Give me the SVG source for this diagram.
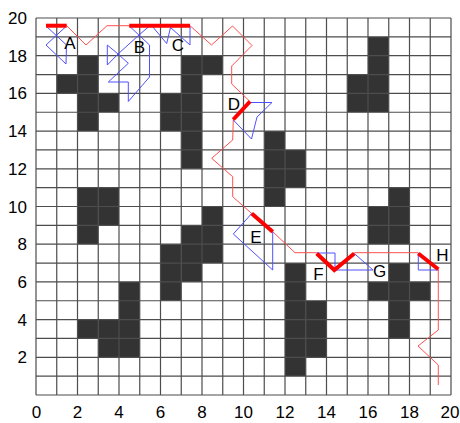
<svg xmlns="http://www.w3.org/2000/svg" width="460" height="423" viewBox="0 0 460 423">
<style>
.cell{fill:#333333}
.grid{stroke:#4d4d4d;stroke-width:1.2;fill:none}
.tick{font-family:"Liberation Sans",Arial,sans-serif;font-size:17px;fill:#000}
.lbl{font-family:"Liberation Sans",Arial,sans-serif;font-size:17px;fill:#000;text-anchor:middle}
.route{stroke:#ff5050;stroke-width:1;fill:none;stroke-linejoin:round}
.probe{stroke:#5050ff;stroke-width:1;fill:none;stroke-linejoin:round}
.hit{stroke:#ff0000;stroke-width:4;fill:none;stroke-linecap:butt;stroke-linejoin:miter}
</style>
<rect width="460" height="423" fill="#ffffff"/>
<g id="obstacles" class="cell" transform="matrix(20.75 0 0 18.85 36 18)">
<rect x="1" y="3" width="1" height="1"/>
<rect x="2" y="2" width="1" height="4"/>
<rect x="3" y="4" width="1" height="1"/>
<rect x="6" y="4" width="1" height="2"/>
<rect x="7" y="2" width="1" height="6"/>
<rect x="8" y="2" width="1" height="1"/>
<rect x="11" y="6" width="1" height="4"/>
<rect x="12" y="7" width="1" height="2"/>
<rect x="2" y="9" width="1" height="3"/>
<rect x="3" y="9" width="1" height="2"/>
<rect x="6" y="12" width="1" height="3"/>
<rect x="7" y="11" width="1" height="3"/>
<rect x="8" y="10" width="1" height="3"/>
<rect x="2" y="16" width="1" height="1"/>
<rect x="3" y="16" width="1" height="2"/>
<rect x="4" y="14" width="1" height="4"/>
<rect x="12" y="13" width="1" height="6"/>
<rect x="13" y="15" width="1" height="3"/>
<rect x="15" y="3" width="1" height="2"/>
<rect x="16" y="1" width="1" height="4"/>
<rect x="16" y="10" width="1" height="2"/>
<rect x="17" y="9" width="1" height="3"/>
<rect x="16" y="14" width="1" height="1"/>
<rect x="17" y="13" width="1" height="4"/>
<rect x="18" y="14" width="1" height="1"/>
</g>
<g id="grid">
<path class="grid" d="M36 18V395M56.75 18V395M77.5 18V395M98.25 18V395M119 18V395M139.75 18V395M160.5 18V395M181.25 18V395M202 18V395M222.75 18V395M243.5 18V395M264.25 18V395M285 18V395M305.75 18V395M326.5 18V395M347.25 18V395M368 18V395M388.75 18V395M409.5 18V395M430.25 18V395M451 18V395
M36 18H451M36 36.85H451M36 55.7H451M36 74.55H451M36 93.4H451M36 112.25H451M36 131.1H451M36 149.95H451M36 168.8H451M36 187.65H451M36 206.5H451M36 225.35H451M36 244.2H451M36 263.05H451M36 281.9H451M36 300.75H451M36 319.6H451M36 338.45H451M36 357.3H451M36 376.15H451M36 395H451"/>
</g>
<g id="axes" class="tick">
<g text-anchor="end">
<text x="27" y="24">20</text>
<text x="27" y="61.7">18</text>
<text x="27" y="99.4">16</text>
<text x="27" y="137.1">14</text>
<text x="27" y="174.8">12</text>
<text x="27" y="212.5">10</text>
<text x="27" y="250.2">8</text>
<text x="27" y="287.9">6</text>
<text x="27" y="325.6">4</text>
<text x="27" y="363.3">2</text>
</g>
<g text-anchor="middle">
<text x="36.5" y="418">0</text>
<text x="77.5" y="418">2</text>
<text x="119" y="418">4</text>
<text x="160.5" y="418">6</text>
<text x="202" y="418">8</text>
<text x="243.5" y="418">10</text>
<text x="285" y="418">12</text>
<text x="326.5" y="418">14</text>
<text x="368" y="418">16</text>
<text x="409.5" y="418">18</text>
<text x="450" y="418">20</text>
</g>
</g>
<g id="connectors">
<path id="route" class="route" d="M66.7 25.7L86 45L107 25.7L129.3 25.7L190 25.7L211.5 45L232.5 26L252 45.5L231.7 66L231.7 84L250 101.5L233.3 119.5L232.7 140L211.7 158.3L232.7 176.7L232.7 196.7L251.7 213.5L272.7 231.7L295 252.7L316.7 252.7M354.3 252.7L418.3 252.7M438.3 269.3L438.3 330L418 346L438.3 365L438.3 385"/>
<path id="probe-A" class="probe" d="M46 26L66.5 45L66 64L46 45L66.5 26"/>
<path id="probe-B" class="probe" d="M129.3 26L149.5 45L149.5 77L128.3 101.5L128.3 82L108.3 82L128.3 63.3L118 54L107.3 45L107.3 65L118 54L139 35L149.5 26"/>
<path id="probe-C" class="probe" d="M152 26L166.7 43.5L170.5 27.5L190 45L190 26"/>
<path id="probe-D" class="probe" d="M233.3 120L251.5 139L257 117L272 102.5L250 102.5"/>
<path id="probe-E" class="probe" d="M251.7 213.5L233.3 234L272.7 270L272.7 231.7"/>
<path id="probe-FG" class="probe" d="M316.7 253L335 253L335 270L373 270L354.3 253.5"/>
<path id="probe-H" class="probe" d="M418.3 253L418.3 270L438.3 270"/>
<path id="hit-A" class="hit" d="M46 25.7H66.7"/>
<path id="hit-BC" class="hit" d="M129.3 25.7H190"/>
<path id="hit-D" class="hit" d="M250 101.5L233.3 119.5"/>
<path id="hit-E" class="hit" d="M251.7 213.5L272.7 231.7"/>
<path id="hit-F" class="hit" d="M316.7 253.5L334.3 270L354.3 253.5"/>
<path id="hit-H" class="hit" d="M418.3 253.5L438.3 269.3"/>
</g>
<g id="labels" class="lbl">
<text id="label-A" x="70" y="48.5">A</text>
<text id="label-B" x="139.5" y="52.5">B</text>
<text id="label-C" x="178" y="50.5">C</text>
<text id="label-D" x="234" y="110">D</text>
<text id="label-E" x="256" y="243.3">E</text>
<text id="label-F" x="318.5" y="280">F</text>
<text id="label-G" x="379.5" y="276.7">G</text>
<text id="label-H" x="442.5" y="260.7">H</text>
</g>
</svg>
